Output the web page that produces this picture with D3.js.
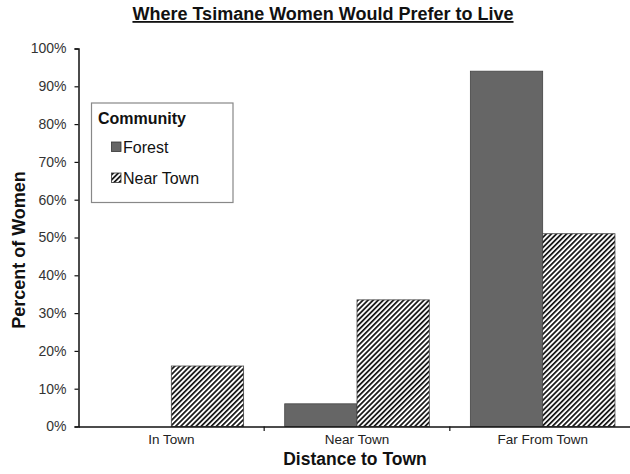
<!DOCTYPE html>
<html><head><meta charset="utf-8">
<script src="https://cdn.jsdelivr.net/npm/d3@7"></script>
<style>body{margin:0;background:#fff}svg{display:block;font-family:"Liberation Sans",Arial,sans-serif}</style>
</head><body>
<script>
const categories = ["In Town", "Near Town", "Far From Town"];
const seriesNames = ["Forest", "Near Town"];
const forestValues = [0, 0.06, 0.94];
const nearTownValues = [0.16, 0.335, 0.51];
const yTicks = [0,0.1,0.2,0.3,0.4,0.5,0.6,0.7,0.8,0.9,1.0];

const W=630,H=474;
const svg=d3.select("body").append("svg").attr("width",W).attr("height",H);
const defs=svg.append("defs");
const pat=defs.append("pattern").attr("id","hatch").attr("patternUnits","userSpaceOnUse")
  .attr("width",3.6).attr("height",3.6).attr("patternTransform","rotate(45)");
pat.append("rect").attr("width",3.6).attr("height",3.6).attr("fill","#fff");
pat.append("rect").attr("x",0).attr("y",0).attr("width",1.7).attr("height",3.6).attr("fill","#111");

const x=d3.scaleBand().domain(categories).range([78.5,635.5]).paddingInner(0).paddingOuter(0);
const y=d3.scaleLinear().domain([0,1]).range([426.5,48.5]);
const inner=d3.scaleBand().domain(seriesNames).range([0,x.bandwidth()]).paddingInner(0).paddingOuter(0.284);

svg.append("text").attr("x",323).attr("y",20).attr("text-anchor","middle")
  .attr("font-size",18).attr("font-weight","bold").attr("text-decoration","underline").attr("fill","#111")
  .text("Where Tsimane Women Would Prefer to Live");

const data=[];
categories.forEach((c,i)=>{
  data.push({c,s:"Forest",v:forestValues[i]});
  data.push({c,s:"Near Town",v:nearTownValues[i]});
});
svg.append("g").selectAll("rect").data(data.filter(d=>d.v>0)).join("rect")
  .attr("x",d=>x(d.c)+inner(d.s)).attr("width",inner.bandwidth())
  .attr("y",d=>y(d.v)).attr("height",d=>y(0)-y(d.v))
  .attr("fill",d=>d.s==="Forest"?"#666":"url(#hatch)")
  .attr("stroke","#444").attr("stroke-width",0.8);

const ya=svg.append("g").attr("transform","translate(78.5,0)")
  .call(d3.axisLeft(y).tickValues(yTicks).tickFormat(d3.format(".0%")).tickSize(4).tickPadding(8));
ya.select(".domain").attr("stroke","#111").attr("stroke-width",1.5);
ya.selectAll(".tick line").attr("stroke","#111").attr("stroke-width",1.2);
ya.selectAll("text").attr("font-size",14).attr("fill","#333").attr("font-family","Liberation Sans, Arial, sans-serif");

const xa=svg.append("g").attr("transform","translate(0,426.5)")
  .call(d3.axisBottom(x).tickSize(0).tickPadding(8));
xa.select(".domain").attr("stroke","#111").attr("stroke-width",1.5);
xa.selectAll("text").attr("font-size",13.5).attr("fill","#222").attr("font-family","Liberation Sans, Arial, sans-serif");
svg.append("g").selectAll("line").data(categories.slice(1)).join("line")
  .attr("x1",d=>x(d)).attr("x2",d=>x(d)).attr("y1",426.5).attr("y2",431)
  .attr("stroke","#111").attr("stroke-width",1.2);

svg.append("text").attr("x",355).attr("y",464.5).attr("text-anchor","middle")
  .attr("font-size",17.5).attr("font-weight","bold").attr("fill","#111").text("Distance to Town");
svg.append("text").attr("transform","translate(24.5,250) rotate(-90)").attr("text-anchor","middle")
  .attr("font-size",18).attr("font-weight","bold").attr("fill","#111").text("Percent of Women");

// legend
const lg=svg.append("g");
lg.append("rect").attr("x",91.5).attr("y",103).attr("width",141.5).attr("height",99.5)
  .attr("fill","#fff").attr("stroke","#888").attr("stroke-width",1.2);
lg.append("text").attr("x",98).attr("y",124).attr("font-size",16).attr("font-weight","bold").attr("fill","#111").text("Community");
seriesNames.forEach((s,i)=>{
  const yy=147+i*31;
  lg.append("rect").attr("x",111.5).attr("y",yy-5).attr("width",9.5).attr("height",9.5)
    .attr("fill",i===0?"#666":"url(#hatch)").attr("stroke","#333").attr("stroke-width",0.8);
  lg.append("text").attr("x",123).attr("y",yy+6).attr("font-size",16).attr("fill","#111").text(s);
});
</script>
</body></html>
